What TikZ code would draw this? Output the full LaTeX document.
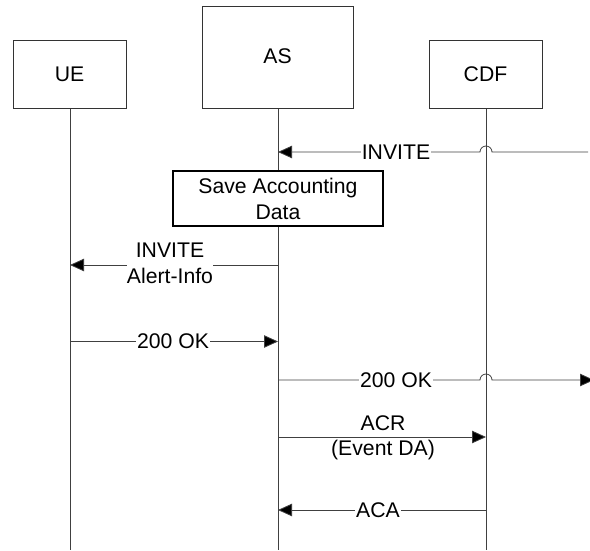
\documentclass[tikz,border=0pt]{standalone}
\usepackage{fontspec}
\setmainfont{Liberation Sans}
\usetikzlibrary{arrows.meta}
\begin{document}
\begin{tikzpicture}[x=1pt,y=-1pt,
  font=\fontsize{21.2}{26}\selectfont,
  entity/.style={draw=black!80,line width=1pt,fill=white,inner sep=0pt,minimum width=113pt,minimum height=68pt},
  life/.style={draw=black!75,line width=0.8pt},
  msg/.style={draw=black!75,line width=0.8pt,-{Triangle[length=14pt,width=12.5pt,fill=black]}},
  lbl/.style={fill=white,inner sep=1pt},
  plain/.style={inner sep=0pt},
  action/.style={draw=black,line width=1.5pt,fill=white,inner sep=0pt,minimum width=210pt,minimum height=55pt,align=center}
]
\useasboundingbox (0,0) rectangle (590,550);

% entities
\node[entity] (ue) at (69.5,74.5) {UE};
\node[entity,minimum width=151pt,minimum height=102.6pt] (as) at (277.5,57.3) {};
\node[plain] (astext) at (277.5,56) {AS};
\node[entity] (cdf) at (485.5,74.5) {CDF};

% lifeline ends
\coordinate (ueEnd) at (70,550);
\coordinate (asEnd) at (278,550);
\coordinate (cdfEnd) at (486,550);
\draw[life] (ue.south -| ueEnd) -- (ueEnd);
\draw[life] (as.south -| asEnd) -- (asEnd);
\draw[life] (cdf.south -| cdfEnd) -- (cdfEnd);

% action box
\node[action] (save) at (278,198.5) {Save Accounting\\Data};

% message coordinates
\coordinate (inR) at (588,152);
\coordinate (inAS) at (278,152);
\coordinate (inJ) at (492,152);
\coordinate (alAS) at (278,265);
\coordinate (alUE) at (70,265);
\coordinate (okUE) at (70,341.5);
\coordinate (okAS) at (278,341.5);
\coordinate (ok2AS) at (278,380);
\coordinate (ok2J) at (480,380);
\coordinate (ok2R) at (594,380);
\coordinate (acrAS) at (278,437);
\coordinate (acrCDF) at (486,437);
\coordinate (acaCDF) at (486,510);
\coordinate (acaAS) at (278,510);

% INVITE from the right
\draw[msg] (inR) -- (inJ) arc[start angle=0,end angle=180,radius=6pt] -- (inAS);
\node[lbl] (inL) at (396,152) {INVITE};

% INVITE Alert-Info to UE
\draw[msg] (alAS) -- (alUE);
\node[lbl,align=center,inner sep=0pt] (alL) at (170,263.5) {INVITE\\Alert-Info};

% 200 OK UE -> AS
\draw[msg] (okUE) -- (okAS);
\node[lbl] (okL) at (173,341.5) {200 OK};

% 200 OK AS -> right
\draw[msg] (ok2AS) -- (ok2J) arc[start angle=180,end angle=0,radius=6pt] -- (ok2R);
\node[lbl] (ok2L) at (396,380) {200 OK};

% ACR
\draw[msg] (acrAS) -- (acrCDF);
\node[plain] (acrL) at (383,423) {ACR};
\node[plain] (acrL2) at (383,450) {(Event DA)};

% ACA
\draw[msg] (acaCDF) -- (acaAS);
\node[lbl] (acaL) at (378,510) {ACA};
\end{tikzpicture}
\end{document}
